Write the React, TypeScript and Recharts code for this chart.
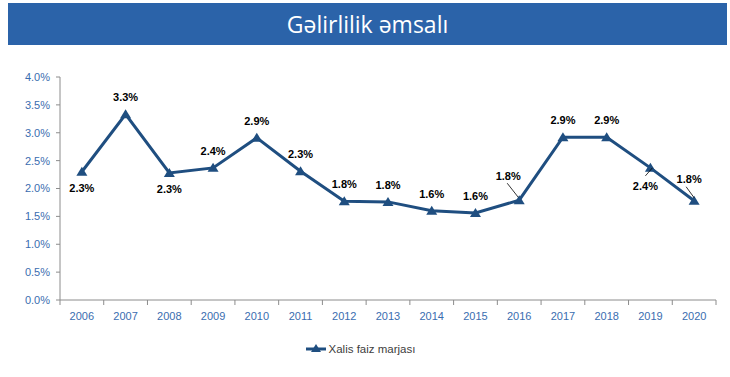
import { LineChart, Line, XAxis, YAxis, LabelList, Legend } from "recharts";

const years = [
  "2006", "2007", "2008", "2009", "2010", "2011", "2012", "2013",
  "2014", "2015", "2016", "2017", "2018", "2019", "2020",
];
const margin = [
  2.3, 3.33, 2.28, 2.37, 2.91, 2.31, 1.77, 1.76,
  1.6, 1.56, 1.79, 2.92, 2.92, 2.37, 1.78,
];
const yTicks = [0, 0.5, 1, 1.5, 2, 2.5, 3, 3.5, 4];
const seriesName = "Xalis faiz marjası";
const title = "Gəlirlilik əmsalı";

// where each data label sits relative to its point
const labelPlacement = [
  "below", "above", "below", "above", "above", "above", "above", "above",
  "above", "above", "leftLeader", "above", "above", "belowLeader", "upLeader",
];

const data = years.map((y, i) => ({ year: y, value: margin[i] }));

const LINE = "#1f4e80";
const TICK_TEXT = "#3a6db0";
const AXIS = "#8c8c8c";
const FONT = "'Liberation Sans', Arial, sans-serif";

const PLOT_LEFT = 60;
const PLOT_RIGHT = 716;
const BAND = (PLOT_RIGHT - PLOT_LEFT) / years.length;

const Triangle = (props: any) => {
  const { cx, cy } = props;
  if (cx == null || cy == null) return null;
  return (
    <path
      d={`M${cx},${cy - 5} L${cx + 5.5},${cy + 4} L${cx - 5.5},${cy + 4} Z`}
      fill={LINE}
    />
  );
};

// category label at the band centre, tick mark on the band edge (Excel style)
const YearTick = (props: any) => {
  const { x, y, payload, index } = props;
  const left = x - BAND / 2;
  const last = index === years.length - 1;
  return (
    <g>
      <line x1={left} y1={y - 8} x2={left} y2={y - 3} stroke={AXIS} />
      {last && <line x1={x + BAND / 2} y1={y - 8} x2={x + BAND / 2} y2={y - 3} stroke={AXIS} />}
      <text x={x} y={y + 12} textAnchor="middle" fill={TICK_TEXT} fontSize={11} fontFamily={FONT}>
        {payload.value}
      </text>
    </g>
  );
};

const PointLabel = (props: any) => {
  const { x, y, index, value } = props;
  const text = `${Number(value).toFixed(1)}%`;
  const mode = labelPlacement[index];
  const style = { fontFamily: FONT, fontSize: 11, fontWeight: 700, fill: "#000" };
  if (mode === "below") {
    return (
      <text x={x} y={y + 20} textAnchor="middle" {...style}>
        {text}
      </text>
    );
  }
  if (mode === "leftLeader") {
    return (
      <g>
        <line x1={x - 12} y1={y - 17} x2={x - 1} y2={y - 3} stroke="#000" strokeWidth={0.8} />
        <text x={x - 11} y={y - 20} textAnchor="middle" {...style}>
          {text}
        </text>
      </g>
    );
  }
  if (mode === "upLeader") {
    return (
      <g>
        <line x1={x - 8} y1={y - 14} x2={x} y2={y - 3} stroke="#000" strokeWidth={0.8} />
        <text x={x - 5} y={y - 18} textAnchor="middle" {...style}>
          {text}
        </text>
      </g>
    );
  }
  if (mode === "belowLeader") {
    return (
      <g>
        <line x1={x - 5} y1={y + 8} x2={x + 2} y2={y} stroke="#000" strokeWidth={0.8} />
        <text x={x - 5} y={y + 22} textAnchor="middle" {...style}>
          {text}
        </text>
      </g>
    );
  }
  return (
    <text x={x} y={y - 13} textAnchor="middle" {...style}>
      {text}
    </text>
  );
};

const LegendContent = () => (
  <div
    style={{
      display: "flex",
      justifyContent: "center",
      alignItems: "center",
      fontFamily: FONT,
      fontSize: 11.5,
      color: "#404040",
      paddingTop: 8,
    }}
  >
    <svg width={20} height={10} style={{ marginRight: 3 }}>
      <line x1={0} y1={5} x2={20} y2={5} stroke={LINE} strokeWidth={3} />
      <path d="M10,0 L15,8 L5,8 Z" fill={LINE} />
    </svg>
    <span>{seriesName}</span>
  </div>
);

export default function App() {
  return (
    <div
      style={{
        position: "absolute",
        left: 0,
        top: 0,
        width: 730,
        height: 377,
        background: "#fff",
      }}
    >
      <div
        style={{
          position: "absolute",
          left: 8,
          top: 3,
          width: 719,
          height: 42,
          background: "#2b63a9",
          color: "#fff",
          fontFamily: "'Open Sans', 'Noto Sans', sans-serif",
          fontSize: 23,
          lineHeight: "42px",
          textAlign: "center",
        }}
      >
        {title}
      </div>
      <LineChart
        width={730}
        height={377}
        data={data}
        margin={{ top: 77, right: 14, bottom: 10, left: 5 }}
      >
        <XAxis
          dataKey="year"
          stroke={AXIS}
          tickLine={false}
          tick={<YearTick />}
          padding={{ left: BAND / 2, right: BAND / 2 }}
          height={35}
          interval={0}
        />
        <YAxis
          domain={[0, 4]}
          ticks={yTicks}
          width={55}
          stroke={AXIS}
          tickSize={4}
          tickMargin={6}
          tick={{ fill: TICK_TEXT, fontSize: 11, fontFamily: FONT }}
          tickFormatter={(v) => `${Number(v).toFixed(1)}%`}
        />
        <Legend verticalAlign="bottom" height={32} content={<LegendContent />} />
        <Line
          type="linear"
          dataKey="value"
          name={seriesName}
          stroke={LINE}
          strokeWidth={3}
          dot={<Triangle />}
          activeDot={false}
          isAnimationActive={false}
        >
          <LabelList dataKey="value" content={<PointLabel />} />
        </Line>
      </LineChart>
    </div>
  );
}
